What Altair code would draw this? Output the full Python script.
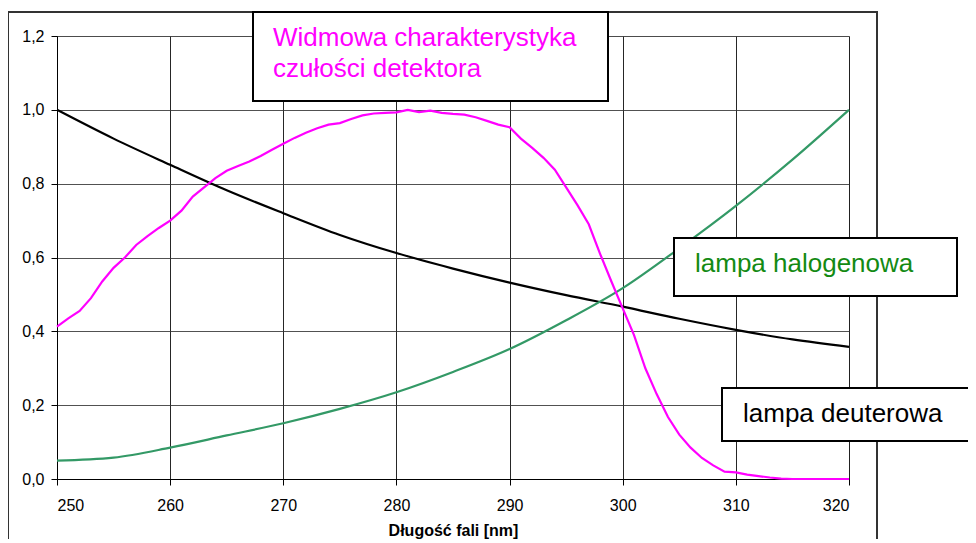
import altair as alt
import pandas as pd

# Wavelength grid for detector (1 nm) and lamp curves (5 nm)
det_x = list(range(250, 321))
det_y = [0.413, 0.435, 0.455, 0.490, 0.535, 0.572, 0.600, 0.634, 0.658, 0.680,
         0.700, 0.727, 0.765, 0.790, 0.815, 0.835, 0.848, 0.860, 0.875, 0.892,
         0.908, 0.924, 0.938, 0.950, 0.960, 0.964, 0.975, 0.985, 0.990, 0.992,
         0.993, 1.000, 0.994, 0.998, 0.992, 0.989, 0.987, 0.980, 0.970, 0.960,
         0.953, 0.922, 0.897, 0.870, 0.838, 0.790, 0.742, 0.690, 0.610, 0.535,
         0.462, 0.390, 0.300, 0.230, 0.168, 0.120, 0.085, 0.057, 0.037, 0.020,
         0.018, 0.012, 0.008, 0.004, 0.001, 0.0, 0.0, 0.0, 0.0, 0.0, 0.0]

lamp_x = [250, 255, 260, 265, 270, 275, 280, 285, 290, 295, 300, 305, 310, 315, 320]
deut_y = [1.000, 0.922, 0.851, 0.782, 0.720, 0.661, 0.612, 0.570, 0.532, 0.498,
          0.467, 0.434, 0.404, 0.378, 0.358]
halo_y = [0.050, 0.058, 0.085, 0.118, 0.151, 0.190, 0.235, 0.290, 0.352, 0.430,
          0.517, 0.625, 0.740, 0.865, 1.000]

x_ticks = [250, 260, 270, 280, 290, 300, 310, 320]
y_ticks = [0.0, 0.2, 0.4, 0.6, 0.8, 1.0, 1.2]

series_names = ["detektor", "deuter", "halogen"]
series_colors = ["#FF00FF", "#000000", "#339966"]

det_df = pd.DataFrame({"x": det_x, "y": det_y, "s": "detektor"})
lamp_df = pd.concat([
    pd.DataFrame({"x": lamp_x, "y": deut_y, "s": "deuter"}),
    pd.DataFrame({"x": lamp_x, "y": halo_y, "s": "halogen"}),
], ignore_index=True)

one = pd.DataFrame({"k": [0]})
FONT = "Liberation Sans"

xscale = alt.Scale(domain=[250, 320], nice=False, zero=False)
yscale = alt.Scale(domain=[0, 1.2], nice=False)
cscale = alt.Scale(domain=series_names, range=series_colors)

xaxis = alt.Axis(values=x_ticks, title="Długość fali [nm]", grid=True,
                 gridColor="#000000", gridOpacity=0.85, gridWidth=1,
                 tickColor="#000000", tickSize=6, domainColor="#000000",
                 labelFontSize=16, labelFont=FONT, labelColor="#000000",
                 labelPadding=12, titleFont=FONT, titleFontSize=16,
                 titleFontWeight="bold", titleColor="#000000", titlePadding=9)
yaxis = alt.Axis(values=y_ticks, title=None, grid=True,
                 gridColor="#333333", gridOpacity=0.85, gridWidth=1,
                 tickColor="#000000", tickSize=6, domainColor="#000000",
                 labelFontSize=16, labelFont=FONT, labelColor="#000000",
                 labelPadding=7,
                 labelExpr="replace(format(datum.value, '.1f'), '.', ',')")

frame = alt.Chart(one).mark_rect(filled=False, stroke="#333333", strokeWidth=2).encode(
    x=alt.value(-49), x2=alt.value(820), y=alt.value(-24), y2=alt.value(560))

lamps = alt.Chart(lamp_df).mark_line(strokeWidth=2.2, interpolate="monotone").encode(
    x=alt.X("x:Q", scale=xscale, axis=xaxis),
    y=alt.Y("y:Q", scale=yscale, axis=yaxis),
    color=alt.Color("s:N", scale=cscale, legend=None),
    detail="s:N",
)

detector = alt.Chart(det_df).mark_line(strokeWidth=2.2).encode(
    x=alt.X("x:Q", scale=xscale),
    y=alt.Y("y:Q", scale=yscale),
    color=alt.Color("s:N", scale=cscale, legend=None),
)

def box(x1, x2, y1, y2):
    return alt.Chart(one).mark_rect(fill="white", stroke="black", strokeWidth=2).encode(
        x=alt.value(x1), x2=alt.value(x2), y=alt.value(y1), y2=alt.value(y2))

def label(txt, x, y, color):
    return alt.Chart(one).mark_text(text=txt, align="left", baseline="alphabetic",
                                    font=FONT, fontSize=26, color=color).encode(
        x=alt.value(x), y=alt.value(y))

chart = alt.layer(
    frame,
    lamps,
    detector,
    box(196, 551, -24, 65),
    label("Widmowa charakterystyka", 216, 10, "#FF00FF"),
    label("czułości detektora", 216, 41, "#FF00FF"),
    box(617, 900, 202, 260),
    label("lampa halogenowa", 638, 236, "#138A13"),
    box(665, 960, 352, 405),
    label("lampa deuterowa", 686, 386, "#000000"),
).properties(
    width=792, height=443,
    autosize=alt.AutoSizeParams(type="none"),
    padding={"left": 49, "top": 28, "right": 119, "bottom": 60},
).configure_view(stroke="#000000", strokeWidth=1).configure(background="white")

chart.save("out.html", embed_options={"renderer": "svg", "actions": False})
